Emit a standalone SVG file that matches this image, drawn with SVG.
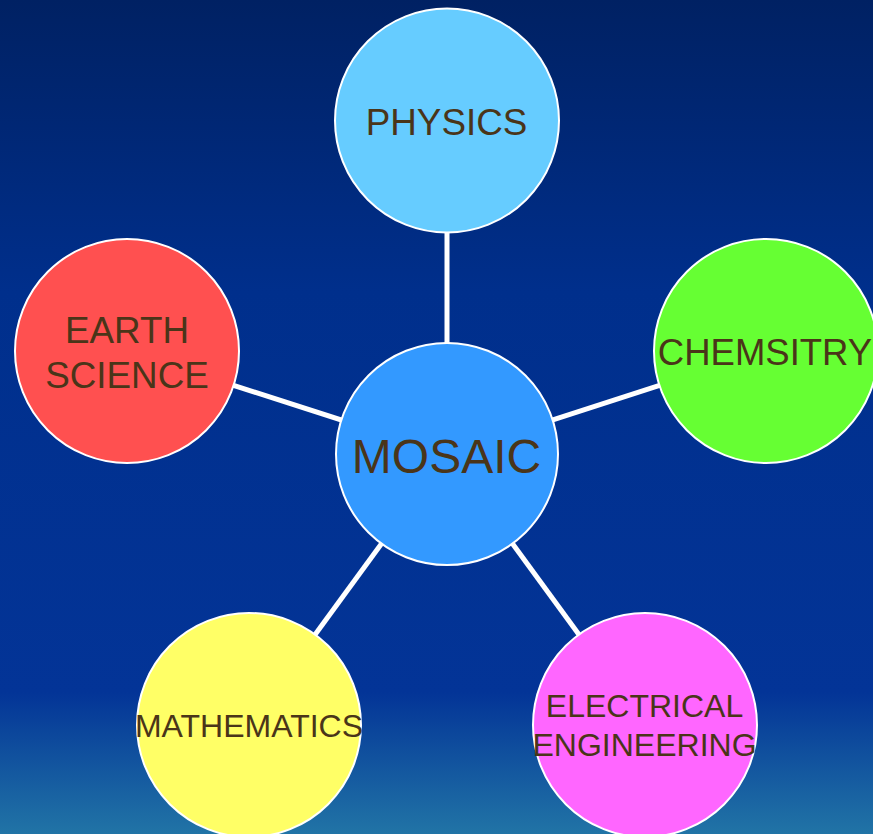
<svg xmlns="http://www.w3.org/2000/svg" width="873" height="834" viewBox="0 0 873 834">
  <defs>
    <linearGradient id="bg" x1="0" y1="0" x2="0" y2="1">
      <stop offset="0" stop-color="#002163"/>
      <stop offset="0.35" stop-color="#002f8c"/>
      <stop offset="0.83" stop-color="#033497"/>
      <stop offset="1" stop-color="#2174a6"/>
    </linearGradient>
    <style>
      .node { stroke: #ffffff; stroke-width: 2; }
      .conn { stroke: #ffffff; stroke-width: 5; }
      text { font-family: "Liberation Sans", Arial, sans-serif; fill: #4a3519; text-anchor: middle; }
    </style>
  </defs>
  <rect width="873" height="834" fill="url(#bg)"/>
  <g id="connectors">
    <line class="conn" x1="447" y1="454" x2="447" y2="120"/>
    <line class="conn" x1="447" y1="454" x2="127" y2="351"/>
    <line class="conn" x1="447" y1="454" x2="766" y2="351"/>
    <line class="conn" x1="447" y1="454" x2="249" y2="725"/>
    <line class="conn" x1="447" y1="454" x2="645" y2="725"/>
  </g>
  <g id="physics">
    <circle class="node" cx="447" cy="120.5" r="112" fill="#66ccff"/>
    <text x="446.5" y="135" font-size="36.8">PHYSICS</text>
  </g>
  <g id="earth-science">
    <circle class="node" cx="127" cy="351" r="112" fill="#ff5050"/>
    <text x="127" y="343" font-size="36.8">EARTH</text>
    <text x="127" y="388" font-size="36.8">SCIENCE</text>
  </g>
  <g id="chemistry">
    <circle class="node" cx="766" cy="351" r="112" fill="#66ff33"/>
    <text x="765" y="365" font-size="36.5">CHEMSITRY</text>
  </g>
  <g id="mosaic">
    <circle class="node" cx="447" cy="454" r="111" fill="#3399ff"/>
    <text x="446.5" y="473" font-size="48">MOSAIC</text>
  </g>
  <g id="mathematics">
    <circle class="node" cx="249" cy="725" r="112" fill="#ffff66"/>
    <text x="249" y="737" font-size="32">MATHEMATICS</text>
  </g>
  <g id="electrical-engineering">
    <circle class="node" cx="645" cy="725" r="112" fill="#ff66ff"/>
    <text x="644.5" y="717" font-size="32">ELECTRICAL</text>
    <text x="644.5" y="756" font-size="32">ENGINEERING</text>
  </g>
</svg>
